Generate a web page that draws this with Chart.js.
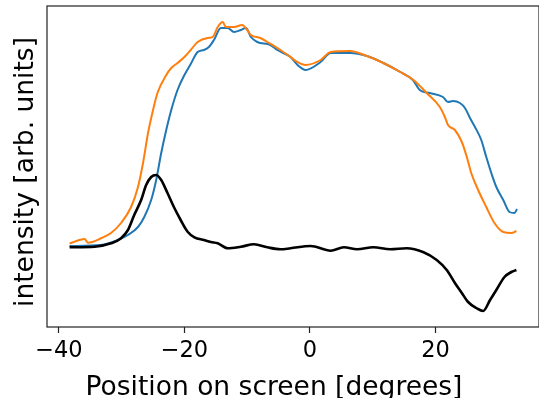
<!DOCTYPE html>
<html>
<head>
<meta charset="utf-8">
<script src="https://cdn.jsdelivr.net/npm/chart.js@4/dist/chart.umd.min.js"></script>
<style>
  html, body { margin: 0; padding: 0; background: #fff; }
  #wrap { width: 539px; height: 398px; }
</style>
</head>
<body>
<div id="wrap"><canvas id="profileChart" width="539" height="398"></canvas></div>
<script>
// Position on screen [degrees] and intensity [arb. units]
const blueX = [-38.3, -33.3, -30.6, -29.0, -27.4, -26.4, -25.3, -24.5, -23.7, -22.9, -22.1, -21.1, -20.0, -19.0, -17.9, -16.9, -16.1, -15.3, -14.2, -13.1, -12.1, -11.0, -10.2, -9.4, -8.4, -6.3, -5.2, -3.1, -1.8, -0.7, 1.7, 3.3, 6.4, 9.1, 11.7, 14.4, 16.4, 17.5, 19.1, 21.2, 22.0, 22.8, 23.9, 24.7, 25.5, 26.3, 27.3, 28.1, 28.9, 29.7, 30.8, 31.8, 32.6, 33.0];
const blueY = [0.81, 0.82, 0.87, 0.92, 1.00, 1.10, 1.27, 1.47, 1.74, 1.97, 2.17, 2.37, 2.52, 2.63, 2.75, 2.77, 2.80, 2.87, 2.99, 2.99, 2.95, 2.97, 2.99, 2.90, 2.85, 2.82, 2.77, 2.70, 2.61, 2.57, 2.65, 2.74, 2.74, 2.71, 2.64, 2.55, 2.47, 2.37, 2.34, 2.30, 2.25, 2.26, 2.24, 2.19, 2.09, 2.00, 1.87, 1.70, 1.54, 1.40, 1.27, 1.15, 1.14, 1.18];

const orangeX = [-38.3, -35.9, -35.4, -33.2, -31.7, -30.1, -28.5, -27.4, -26.6, -25.8, -25.0, -24.3, -22.9, -22.1, -21.1, -20.0, -19.0, -17.9, -16.3, -15.5, -14.7, -13.9, -13.4, -12.1, -10.8, -10.0, -9.4, -7.9, -6.8, -5.2, -3.1, -2.0, -0.7, 1.7, 3.3, 6.4, 9.1, 11.7, 14.4, 16.5, 18.6, 20.7, 21.5, 22.0, 23.1, 24.2, 25.0, 25.7, 26.8, 28.1, 29.4, 30.8, 32.1, 32.9];
const orangeY = [0.835, 0.88, 0.843, 0.89, 0.94, 1.04, 1.20, 1.40, 1.64, 1.94, 2.17, 2.34, 2.52, 2.59, 2.64, 2.70, 2.77, 2.85, 2.89, 2.90, 3.00, 3.05, 3.00, 3.00, 3.02, 2.97, 2.92, 2.89, 2.85, 2.79, 2.70, 2.65, 2.62, 2.67, 2.75, 2.76, 2.71, 2.64, 2.55, 2.47, 2.34, 2.20, 2.10, 2.02, 1.97, 1.85, 1.70, 1.54, 1.37, 1.20, 1.04, 0.95, 0.94, 0.96];

const blackX = [-38.3, -34.3, -31.7, -30.1, -29.0, -28.0, -26.9, -26.1, -25.3, -24.5, -23.7, -22.7, -21.6, -20.6, -19.5, -18.4, -16.9, -15.8, -14.7, -13.1, -11.0, -8.9, -6.8, -4.7, -3.1, 0.1, 3.3, 5.4, 7.5, 10.1, 12.8, 15.4, 18.1, 20.2, 21.8, 23.1, 24.2, 25.2, 26.5, 27.6, 28.7, 29.7, 31.0, 32.1, 32.9];
const blackY = [0.797, 0.803, 0.837, 0.887, 0.97, 1.12, 1.27, 1.42, 1.50, 1.52, 1.47, 1.34, 1.19, 1.07, 0.953, 0.897, 0.87, 0.85, 0.837, 0.787, 0.803, 0.827, 0.797, 0.777, 0.787, 0.81, 0.763, 0.797, 0.777, 0.797, 0.777, 0.787, 0.747, 0.67, 0.57, 0.44, 0.34, 0.25, 0.19, 0.16, 0.27, 0.37, 0.50, 0.55, 0.57];

const xTicks = [-40, -20, 0, 20];
const xLabel = 'Position on screen [degrees]';
const yLabel = 'intensity [arb. units]';

const toPoints = (xs, ys) => xs.map((x, i) => ({ x: x, y: ys[i] }));

// frame round the plot area, like matplotlib spines
const frame = {
    id: 'frame',
    beforeDatasetsDraw(chart) {
        const { ctx, chartArea: a } = chart;
        ctx.save();
        ctx.strokeStyle = '#222';
        ctx.lineWidth = 1.2;
        ctx.strokeRect(a.left, a.top, a.right - a.left, a.bottom - a.top);
        ctx.restore();
    }
};

// axis titles, placed where the picture has them
const axisTitles = {
    id: 'axisTitles',
    afterDraw(chart) {
        const ctx = chart.ctx;
        ctx.save();
        ctx.fillStyle = '#000';
        ctx.font = '26.5px "DejaVu Sans"';
        ctx.textAlign = 'center';
        ctx.textBaseline = 'alphabetic';
        ctx.fillText(xLabel, 274, 395);
        ctx.translate(33, 172);
        ctx.rotate(-Math.PI / 2);
        ctx.fillText(yLabel, 0, 0);
        ctx.restore();
    }
};

const ctx = document.getElementById('profileChart').getContext('2d');
new Chart(ctx, {
    type: 'line',
    data: {
        datasets: [
            { data: toPoints(blackX, blackY), borderColor: '#000000', borderWidth: 2.6 },
            { data: toPoints(orangeX, orangeY), borderColor: '#ff7f0e', borderWidth: 2 },
            { data: toPoints(blueX, blueY), borderColor: '#1f77b4', borderWidth: 2 }
        ]
    },
    options: {
        responsive: false,
        animation: false,
        layout: { padding: { top: 6, right: 0, left: 0, bottom: 0 } },
        elements: { point: { radius: 0 }, line: { cubicInterpolationMode: 'monotone', fill: false } },
        scales: {
            x: {
                type: 'linear',
                min: -41.9,
                max: 36.5,
                afterBuildTicks: (scale) => { scale.ticks = xTicks.map(v => ({ value: v })); },
                afterFit: (scale) => { scale.height = 71; },
                ticks: {
                    color: '#000',
                    padding: 5,
                    maxRotation: 0,
                    font: { family: 'DejaVu Sans', size: 22.5 },
                    callback: (v) => v < 0 ? '\u2212' + Math.abs(v) : String(v)
                },
                grid: { drawOnChartArea: false, drawTicks: true, tickLength: 6, tickColor: '#222', tickWidth: 1.2 },
                border: { display: false }
            },
            y: {
                min: 0,
                max: 3.21,
                afterFit: (scale) => { scale.width = 47; },
                ticks: { display: false },
                grid: { display: false },
                border: { display: false }
            }
        },
        plugins: {
            legend: { display: false },
            tooltip: { enabled: false }
        }
    },
    plugins: [frame, axisTitles]
});
</script>
</body>
</html>
